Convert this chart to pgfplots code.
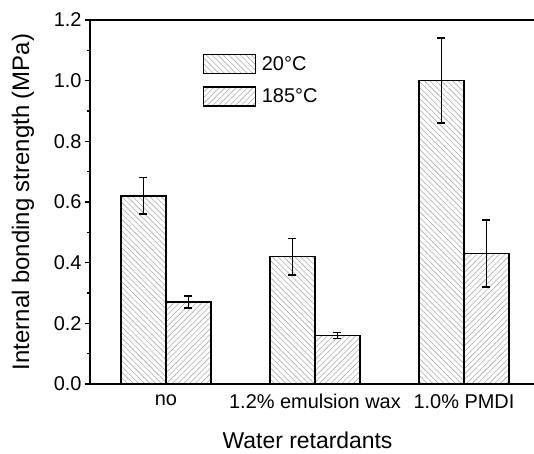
\documentclass[border=0pt]{standalone}
\usepackage{fontspec}
\setmainfont{Liberation Sans}
\usepackage{pgfplots}
\pgfplotsset{compat=1.18}
\usetikzlibrary{patterns.meta}
\pgfplotstableread{
x y e
0 0.62 0.06
1 0.42 0.06
2 1.00 0.14
}\dataA
\pgfplotstableread{
x y e
0 0.27 0.02
1 0.16 0.01
2 0.43 0.11
}\dataB
\begin{document}
\begin{tikzpicture}
\begin{axis}[
  scale only axis, width=444bp, height=364bp,
  xmin=-0.51, xmax=2.47, ymin=0, ymax=1.2,
  axis y line*=left, axis x line*=box,
  axis line style={line width=1.4bp, black},
  ybar, bar width=0.302,
  xtick={0,1,2}, xticklabels={no, 1.2\% emulsion wax, 1.0\% PMDI},
  x tick style={draw=none},
  ytick={0,0.2,0.4,0.6,0.8,1.0,1.2},
  minor y tick num=1,
  tick align=outside, ytick pos=left,
  major tick length=5bp, minor tick length=3bp,
  y tick style={line width=1.4bp, black},
  yticklabel style={/pgf/number format/.cd, fixed, fixed zerofill, precision=1},
  /pgf/number format/assume math mode=true,
  tick label style={font=\fontsize{20}{24}\selectfont},
  xticklabel style={yshift=-2bp},
  xlabel={Water retardants},
  ylabel={Internal bonding strength (MPa)},
  xlabel style={font=\fontsize{23}{27}\selectfont, at={(axis description cs:0.49,-0.176)}, anchor=base},
  ylabel style={font=\fontsize{24}{28}\selectfont, at={(axis description cs:-0.151,0.5)}, anchor=center},
  legend image code/.code={\draw[#1, line width=1.4bp] (0bp,-9.5bp) rectangle (52bp,9.5bp); \path (55bp,0bp);},
  legend style={draw=none, fill=none, at={(axis description cs:0.254,0.907)}, anchor=north west,
    font=\fontsize{20}{24}\selectfont, inner sep=0pt, row sep=12bp,
    nodes={inner sep=2.5bp}},
  legend cell align=left,
  error bars/y dir=both, error bars/y explicit,
  error bars/error mark options={rotate=90, mark size=4bp, line width=1.5bp, black},
  error bars/error bar style={line width=1.5bp, black},
]
\addplot[draw=black, line width=1.4bp, pattern={Lines[angle=-45,distance=4bp,line width=0.6bp]}, pattern color=gray!65, bar shift=-0.151]
  table[x=x, y=y, y error=e] {\dataA};
\addlegendentry{20°C}
\addplot[draw=black, line width=1.4bp, pattern={Lines[angle=45,distance=4bp,line width=0.6bp]}, pattern color=gray!65, bar shift=0.151]
  table[x=x, y=y, y error=e] {\dataB};
\addlegendentry{185°C}
\end{axis}
\pgfresetboundingbox
\path[use as bounding box] ([shift={(-90bp,-70bp)}]current axis.south west) rectangle ([shift={(0bp,20bp)}]current axis.north east);
\end{tikzpicture}
\end{document}
